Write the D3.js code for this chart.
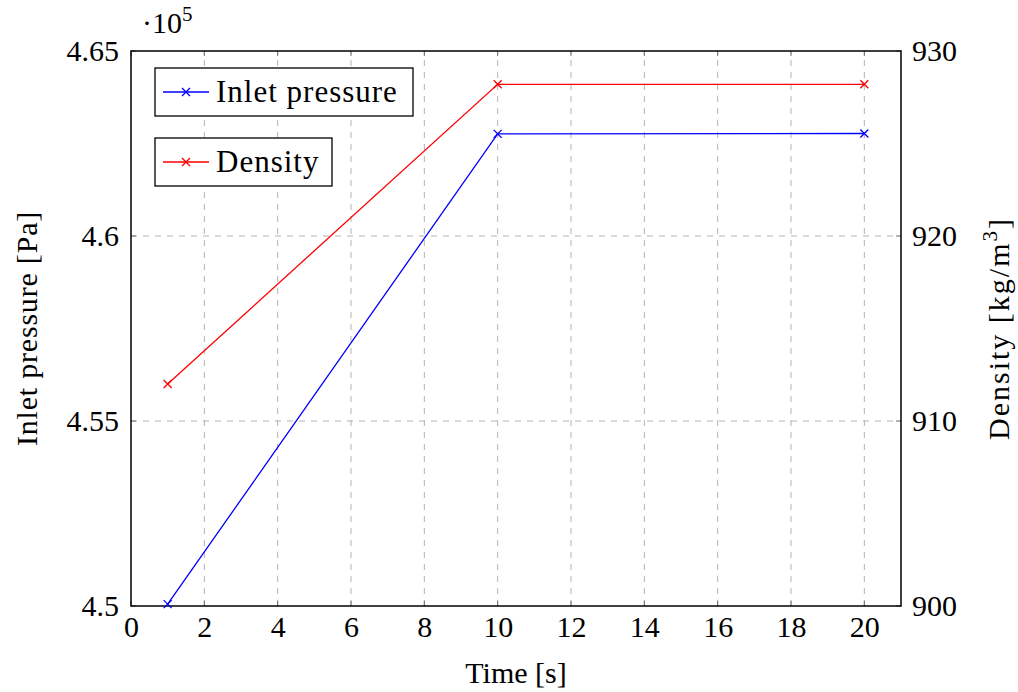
<!DOCTYPE html>
<html>
<head>
<meta charset="utf-8">
<script src="https://cdn.jsdelivr.net/npm/d3@7"></script>
<style>
body { margin: 0; background: #fff; }
text { font-family: "Liberation Serif", "Times New Roman", serif; fill: #000; }
</style>
</head>
<body>
<div id="chart"></div>
<script>
// data
var timeValues = [1, 10, 20];
var pressureValues = [4.5005, 4.6276, 4.6277];   // x 10^5 Pa
var densityValues = [912.0, 928.2, 928.2];       // kg/m^3
var xTicks = [0, 2, 4, 6, 8, 10, 12, 14, 16, 18, 20];
var pressureTicks = [4.5, 4.55, 4.6, 4.65];
var pressureTickLabels = ["4.5", "4.55", "4.6", "4.65"];
var densityTicks = [900, 910, 920, 930];

var W = 1018, H = 692;
var pLeft = 131, pRight = 901, pTop = 51, pBottom = 606;

var svg = d3.select("#chart").append("svg")
	.attr("width", W).attr("height", H);

var x = d3.scaleLinear().domain([0, 21]).range([pLeft, pRight]);
var yP = d3.scaleLinear().domain([4.5, 4.65]).range([pBottom, pTop]);
var yD = d3.scaleLinear().domain([900, 930]).range([pBottom, pTop]);

// grid
var grid = svg.append("g").attr("stroke", "#b3b3b3").attr("stroke-width", 1)
	.attr("stroke-dasharray", "6,6");
grid.selectAll(".vx").data(xTicks.filter(function(d){ return d > 0; })).enter().append("line")
	.attr("x1", function(d){ return x(d); }).attr("x2", function(d){ return x(d); })
	.attr("y1", pBottom).attr("y2", pTop);
grid.selectAll(".hy").data(pressureTicks.slice(1, 3)).enter().append("line")
	.attr("y1", function(d){ return yP(d); }).attr("y2", function(d){ return yP(d); })
	.attr("x1", pLeft).attr("x2", pRight);

// inner tick marks
var ticks = svg.append("g").attr("stroke", "#6e6e6e").attr("stroke-width", 1);
xTicks.forEach(function(d){
	ticks.append("line").attr("x1", x(d)).attr("x2", x(d)).attr("y1", pBottom).attr("y2", pBottom - 5);
	ticks.append("line").attr("x1", x(d)).attr("x2", x(d)).attr("y1", pTop).attr("y2", pTop + 5);
});
pressureTicks.forEach(function(d){
	ticks.append("line").attr("x1", pLeft).attr("x2", pLeft + 5).attr("y1", yP(d)).attr("y2", yP(d));
});
densityTicks.forEach(function(d){
	ticks.append("line").attr("x1", pRight).attr("x2", pRight - 5).attr("y1", yD(d)).attr("y2", yD(d));
});

// axes (labels only, frame drawn separately)
var xAxis = d3.axisBottom(x).tickValues(xTicks).tickSize(0).tickPadding(10);
var gx = svg.append("g").attr("transform", "translate(0," + pBottom + ")").call(xAxis);
var yAxisL = d3.axisLeft(yP).tickValues(pressureTicks).tickSize(0).tickPadding(12)
	.tickFormat(function(d, i){ return pressureTickLabels[i]; });
var gyl = svg.append("g").attr("transform", "translate(" + pLeft + ",0)").call(yAxisL);
var yAxisR = d3.axisRight(yD).tickValues(densityTicks).tickSize(0).tickPadding(11);
var gyr = svg.append("g").attr("transform", "translate(" + pRight + ",0)").call(yAxisR);
[gx, gyl, gyr].forEach(function(g){
	g.select(".domain").remove();
	g.selectAll("text").attr("font-family", "Liberation Serif").attr("font-size", 30).attr("fill", "#000");
});

// frame
svg.append("rect").attr("x", pLeft).attr("y", pTop)
	.attr("width", pRight - pLeft).attr("height", pBottom - pTop)
	.attr("fill", "none").attr("stroke", "#000").attr("stroke-width", 1.5);

// series
function drawSeries(vals, yScale, color) {
	var pts = timeValues.map(function(t, i){ return [x(t), yScale(vals[i])]; });
	svg.append("path").attr("d", d3.line()(pts))
		.attr("fill", "none").attr("stroke", color).attr("stroke-width", 1.3);
	pts.forEach(function(p){ drawCross(p[0], p[1], color); });
}
function drawCross(cx, cy, color) {
	var s = 4;
	svg.append("path")
		.attr("d", "M" + (cx - s) + "," + (cy - s) + "L" + (cx + s) + "," + (cy + s) +
			"M" + (cx - s) + "," + (cy + s) + "L" + (cx + s) + "," + (cy - s))
		.attr("stroke", color).attr("stroke-width", 1.3).attr("fill", "none");
}
drawSeries(pressureValues, yP, "#0000ff");
drawSeries(densityValues, yD, "#ff0000");

// legends (two separate boxes)
function legendBox(y0, w, label, color) {
	svg.append("rect").attr("x", 155).attr("y", y0).attr("width", w).attr("height", 48)
		.attr("fill", "#fff").attr("stroke", "#000").attr("stroke-width", 1.3);
	svg.append("line").attr("x1", 163).attr("x2", 209).attr("y1", y0 + 24).attr("y2", y0 + 24)
		.attr("stroke", color).attr("stroke-width", 1.3);
	drawCross(186, y0 + 24, color);
	svg.append("text").attr("x", 216).attr("y", y0 + 34).attr("font-size", 31)
		.attr("letter-spacing", 1).text(label);
}
legendBox(68, 258, "Inlet pressure", "#0000ff");
legendBox(138, 177, "Density", "#ff0000");

// multiplier
var mult = svg.append("text").attr("x", 142).attr("y", 33).attr("font-size", 30);
mult.append("tspan").text("\u00b710");
mult.append("tspan").attr("font-size", 21).attr("dy", -12).text("5");

// axis titles
svg.append("text").attr("x", (pLeft + pRight) / 2).attr("y", 683)
	.attr("text-anchor", "middle").attr("font-size", 30).text("Time [s]");
svg.append("text").attr("transform", "translate(37," + ((pTop + pBottom) / 2) + ") rotate(-90)")
	.attr("text-anchor", "middle").attr("font-size", 30).attr("letter-spacing", 0.8)
	.text("Inlet pressure [Pa]");
var dl = svg.append("text").attr("transform", "translate(1009," + ((pTop + pBottom) / 2) + ") rotate(-90)")
	.attr("text-anchor", "middle").attr("font-size", 30).attr("letter-spacing", 2);
dl.append("tspan").text("Density [kg/m");
dl.append("tspan").attr("font-size", 21).attr("dy", -12).text("3");
dl.append("tspan").attr("dy", 12).text("]");
</script>
</body>
</html>
